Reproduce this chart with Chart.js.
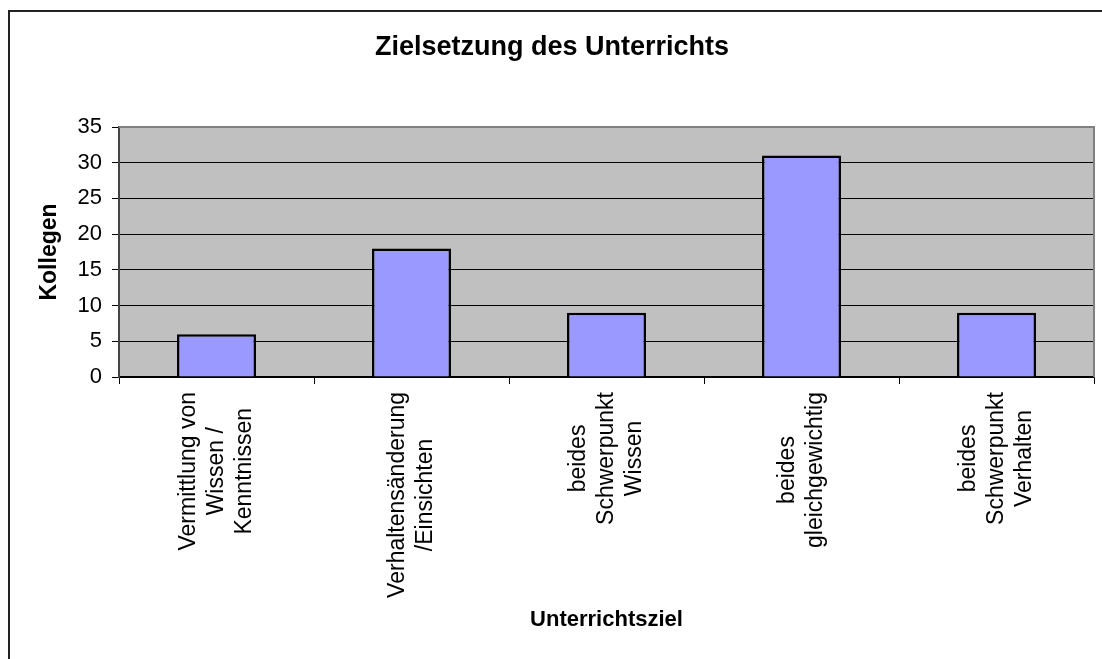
<!DOCTYPE html>
<html>
<head>
<meta charset="utf-8">
<script src="https://cdn.jsdelivr.net/npm/chart.js@4"></script>
<style>
   html, body { margin: 0; padding: 0; background: #fff; overflow: hidden; }
   #frame {
      position: absolute;
      left: 8px;
      top: 10px;
      width: 1104px;
      height: 660px;
      border: 2px solid #222;
   }
   canvas { display: block; }
</style>
</head>
<body>
<div id="frame"><canvas id="canvas-1" width="1104" height="660"></canvas></div>
<script>
const TITLE = "Zielsetzung des Unterrichts";
const X_TITLE = "Unterrichtsziel";
const Y_TITLE = "Kollegen";
const CATEGORIES = [
   ["Vermittlung von", "Wissen /", "Kenntnissen"],
   ["Verhaltensänderung", "/Einsichten"],
   ["beides", "Schwerpunkt", "Wissen"],
   ["beides", "gleichgewichtig"],
   ["beides", "Schwerpunkt", "Verhalten"],
];
const KOLLEGEN = [6, 18, 9, 31, 9];
const Y_MIN = 0;
const Y_MAX = 35;
const Y_STEP = 5;

const FONT = "'Liberation Sans', Arial, sans-serif";

// grey plot area with its grey frame, like the old office chart
const plotBackground = {
   id: "plotBackground",
   beforeDraw(chart) {
      const { ctx, chartArea: a } = chart;
      ctx.save();
      ctx.fillStyle = "#c0c0c0";
      ctx.fillRect(a.left, a.top, a.right - a.left, a.bottom - a.top);
      ctx.restore();
   },
   beforeDatasetsDraw(chart) {
      const { ctx, chartArea: a } = chart;
      ctx.save();
      ctx.strokeStyle = "#808080";
      ctx.lineWidth = 2;
      ctx.beginPath();
      ctx.moveTo(a.left, a.top);
      ctx.lineTo(a.right, a.top);
      ctx.lineTo(a.right, a.bottom);
      ctx.stroke();
      ctx.restore();
   },
};

// rotated category labels with centred lines
const rotatedLabels = {
   id: "rotatedLabels",
   afterDraw(chart) {
      const { ctx } = chart;
      const xScale = chart.scales.x;
      const top = chart.chartArea.bottom + 15;
      const lineH = 28;
      ctx.save();
      ctx.font = `23px ${FONT}`;
      ctx.fillStyle = "#000";
      ctx.textAlign = "center";
      ctx.textBaseline = "middle";
      CATEGORIES.forEach((lines, i) => {
         const x = xScale.getPixelForValue(i);
         const maxW = Math.max(...lines.map((l) => ctx.measureText(l).width));
         ctx.save();
         ctx.translate(x, top + maxW / 2);
         ctx.rotate(-Math.PI / 2);
         lines.forEach((line, j) => {
            ctx.fillText(line, 0, (j - (lines.length - 1) / 2) * lineH);
         });
         ctx.restore();
      });
      ctx.restore();
   },
};

const drawChart1 = () => {
   const canvas = document.getElementById("canvas-1");
   const ctx = canvas.getContext("2d");

   new Chart(ctx, {
      type: "bar",
      data: {
         labels: CATEGORIES,
         datasets: [
            {
               label: Y_TITLE,
               data: KOLLEGEN,
               backgroundColor: "#9999ff",
               borderColor: "#000",
               borderWidth: 2.5,
               barPercentage: 0.405,
               categoryPercentage: 1,
            },
         ],
      },
      options: {
         responsive: false,
         animation: false,
         devicePixelRatio: 1,
         layout: {
            padding: { left: 0, right: 20, top: 0, bottom: 0 },
         },
         scales: {
            x: {
               grid: {
                  display: true,
                  drawOnChartArea: false,
                  drawTicks: true,
                  tickLength: 7,
                  tickColor: "#000",
                  offset: true,
               },
               border: { display: true, color: "#000", width: 1.5 },
               ticks: {
                  autoSkip: false,
                  maxRotation: 0,
                  minRotation: 0,
                  callback: () => "",
               },
               title: {
                  display: true,
                  text: X_TITLE,
                  color: "#000",
                  font: { family: FONT, size: 22, weight: "bold" },
                  padding: { top: 0, bottom: 38.8 },
               },
               afterFit: (scale) => {
                  scale.height = 295;
               },
            },
            y: {
               min: Y_MIN,
               max: Y_MAX,
               grid: {
                  color: (c) => (c.tick && c.tick.value === Y_MAX ? "#808080" : "#000"),
                  lineWidth: 1,
                  tickLength: 7,
                  tickColor: "#000",
               },
               border: { display: true, color: "#444", width: 2 },
               ticks: {
                  stepSize: Y_STEP,
                  color: "#000",
                  padding: 10,
                  font: { family: FONT, size: 22 },
               },
               title: {
                  display: true,
                  text: Y_TITLE,
                  color: "#000",
                  font: { family: FONT, size: 23, weight: "bold" },
                  padding: { top: 26.2, bottom: 0 },
               },
               afterFit: (scale) => {
                  scale.width = 109;
               },
            },
         },
         plugins: {
            legend: { display: false },
            tooltip: { enabled: false },
            title: {
               display: true,
               text: TITLE,
               color: "#000",
               font: { family: FONT, size: 27, weight: "bold" },
               padding: { top: 19.8, bottom: 62.8 },
            },
         },
      },
      plugins: [plotBackground, rotatedLabels],
   });
};

drawChart1();
</script>
</body>
</html>
